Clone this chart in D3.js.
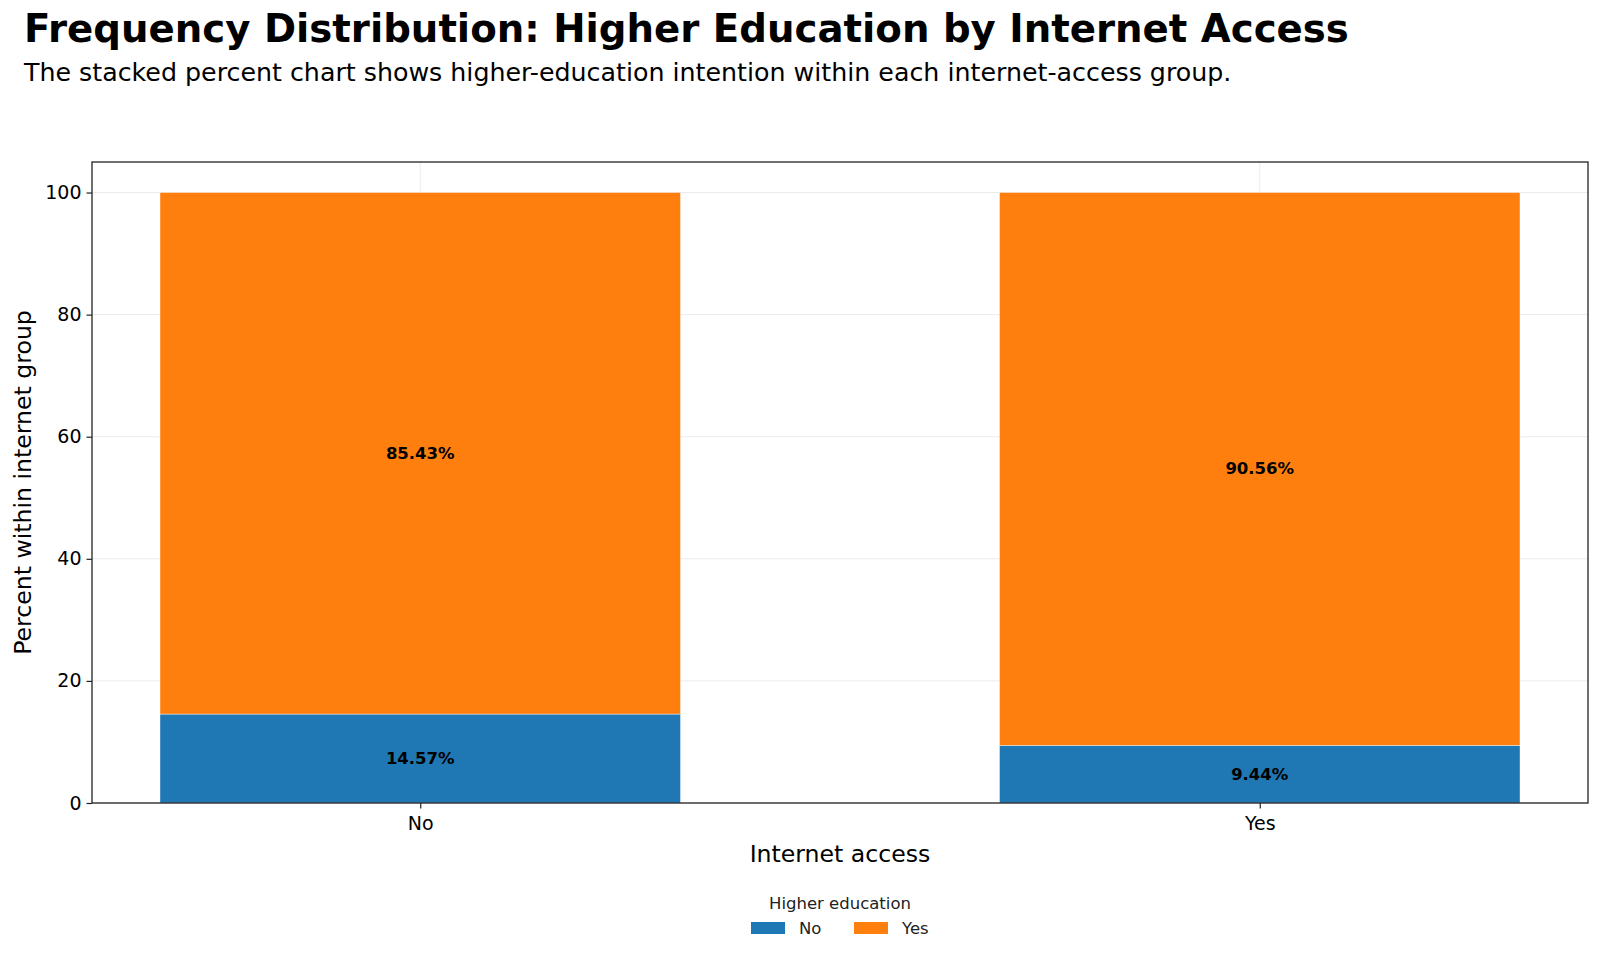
<!DOCTYPE html>
<html>
<head>
    <meta charset="utf-8">
    <title>Higher Education by Internet Access</title>
    <script src="https://d3js.org/d3.v7.min.js"></script>
    <style>
        body { margin: 0; background: #fff; }
        text { font-family: "DejaVu Sans", sans-serif; fill: #000; }
    </style>
</head>
<body>
    <div id="chart"></div>

    <script>
        // Data
        var categories = ["No", "Yes"];           // internet access
        var seriesKeys = ["No", "Yes"];           // higher education
        var higherEduNo = [14.57, 9.44];
        var higherEduYes = [85.43, 90.56];
        var yTicks = [0, 20, 40, 60, 80, 100];

        var colors = { "No": "#1f77b4", "Yes": "#ff7f0e" };

        var width = 1600;
        var height = 957;
        var margin = { top: 162, right: 12, bottom: 154, left: 92 };
        var plotW = width - margin.left - margin.right;
        var plotH = height - margin.top - margin.bottom;

        var svg = d3.select("#chart")
            .append("svg")
            .attr("width", width)
            .attr("height", height);

        // Build rows for the stack
        var rows = categories.map(function(c, i) {
            return { category: c, "No": higherEduNo[i], "Yes": higherEduYes[i] };
        });

        var series = d3.stack().keys(seriesKeys)(rows);

        // x: index based, with 5% margin like the original
        var barW = 0.62;
        var lo = -barW / 2, hi = categories.length - 1 + barW / 2;
        var pad = (hi - lo) * 0.05;
        var x = d3.scaleLinear()
            .domain([lo - pad, hi + pad])
            .range([0, plotW]);

        var y = d3.scaleLinear()
            .domain([0, 105])
            .range([plotH, 0]);

        var g = svg.append("g")
            .attr("transform", "translate(" + margin.left + "," + margin.top + ")");

        // grid
        g.append("g")
            .selectAll("line.hgrid")
            .data(yTicks)
            .enter()
            .append("line")
            .attr("x1", 0).attr("x2", plotW)
            .attr("y1", function(d) { return y(d); })
            .attr("y2", function(d) { return y(d); })
            .attr("stroke", "#ebebeb")
            .attr("stroke-width", 1);

        g.append("g")
            .selectAll("line.vgrid")
            .data(categories)
            .enter()
            .append("line")
            .attr("x1", function(d, i) { return x(i); })
            .attr("x2", function(d, i) { return x(i); })
            .attr("y1", 0).attr("y2", plotH)
            .attr("stroke", "#ebebeb")
            .attr("stroke-width", 1);

        // stacked bars
        var layer = g.selectAll(".layer")
            .data(series)
            .enter()
            .append("g")
            .attr("class", "layer")
            .attr("fill", function(d) { return colors[d.key]; });

        layer.selectAll("rect")
            .data(function(d) { return d; })
            .enter()
            .append("rect")
            .attr("x", function(d, i) { return x(i - barW / 2); })
            .attr("width", x(barW) - x(0))
            .attr("y", function(d) { return y(d[1]); })
            .attr("height", function(d) { return y(d[0]) - y(d[1]); })
            .attr("stroke", "#ffffff")
            .attr("stroke-width", 0.4);

        // percent labels
        layer.selectAll("text")
            .data(function(d) { return d; })
            .enter()
            .append("text")
            .attr("x", function(d, i) { return x(i); })
            .attr("y", function(d) { return y((d[0] + d[1]) / 2); })
            .attr("text-anchor", "middle")
            .attr("dominant-baseline", "central")
            .style("font-size", "16.5px")
            .style("font-weight", "bold")
            .text(function(d) { return (d[1] - d[0]).toFixed(2) + "%"; });

        // axes
        var yAxis = g.append("g")
            .call(d3.axisLeft(y).tickValues(yTicks).tickSize(5.5).tickPadding(5));
        var xAxis = g.append("g")
            .attr("transform", "translate(0," + plotH + ")")
            .call(d3.axisBottom(x).tickValues(d3.range(categories.length))
                .tickFormat(function(i) { return categories[i]; })
                .tickSize(5.5).tickPadding(8));

        [yAxis, xAxis].forEach(function(a) {
            a.select(".domain").remove();
            a.selectAll(".tick line").attr("stroke", "#222").attr("stroke-width", 1.2);
            a.selectAll(".tick text")
                .style("font-family", "DejaVu Sans, sans-serif")
                .style("font-size", "19px")
                .attr("fill", "#000");
        });

        // frame
        g.append("rect")
            .attr("x", 0).attr("y", 0)
            .attr("width", plotW).attr("height", plotH)
            .attr("fill", "none")
            .attr("stroke", "#222")
            .attr("stroke-width", 1.3);

        // axis titles
        svg.append("text")
            .attr("x", margin.left + plotW / 2)
            .attr("y", 862)
            .attr("text-anchor", "middle")
            .style("font-size", "23.6px")
            .text("Internet access");

        svg.append("text")
            .attr("transform", "translate(31," + (margin.top + plotH / 2) + ") rotate(-90)")
            .attr("text-anchor", "middle")
            .style("font-size", "23.6px")
            .text("Percent within internet group");

        // title and subtitle
        svg.append("text")
            .attr("x", 24)
            .attr("y", 42)
            .style("font-size", "38.7px")
            .style("font-weight", "bold")
            .text("Frequency Distribution: Higher Education by Internet Access");

        svg.append("text")
            .attr("x", 24)
            .attr("y", 81)
            .style("font-size", "25.3px")
            .text("The stacked percent chart shows higher-education intention within each internet-access group.");

        // legend
        var legend = svg.append("g");
        legend.append("text")
            .attr("x", 840)
            .attr("y", 909)
            .attr("text-anchor", "middle")
            .style("font-size", "16.5px")
            .style("fill", "#222")
            .text("Higher education");

        var legendX = [751, 854];
        var item = legend.selectAll(".item")
            .data(seriesKeys)
            .enter()
            .append("g")
            .attr("class", "item")
            .attr("transform", function(d, i) { return "translate(" + legendX[i] + ",922)"; });

        item.append("rect")
            .attr("width", 34)
            .attr("height", 12)
            .attr("fill", function(d) { return colors[d]; });

        item.append("text")
            .attr("x", 48)
            .attr("y", 12)
            .style("font-size", "16.5px")
            .style("fill", "#222")
            .text(function(d) { return d; });
    </script>
</body>
</html>
